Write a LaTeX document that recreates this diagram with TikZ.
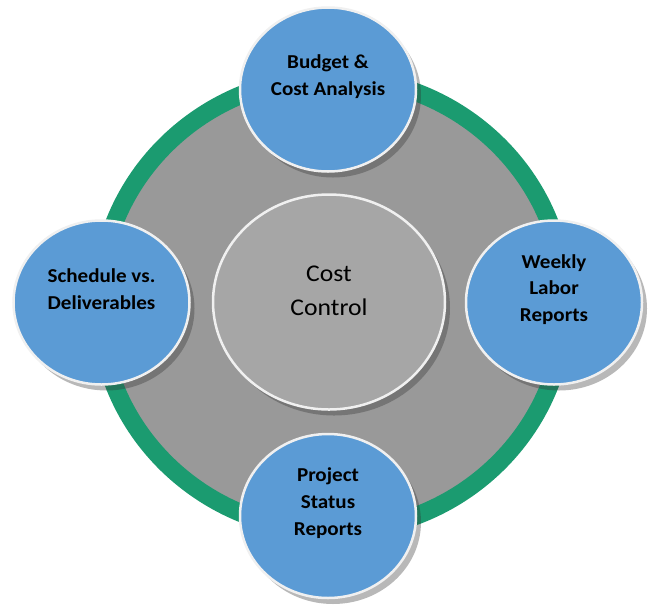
\documentclass[tikz,border=0pt]{standalone}
\usepackage{fontspec}
\setmainfont{Carlito}[FakeStretch=1.07]
\usetikzlibrary{shapes.geometric,shadows}
\definecolor{ringgreen}{RGB}{27,155,112}
\definecolor{discgray}{RGB}{153,153,153}
\definecolor{hubgray}{RGB}{166,166,166}
\definecolor{topicblue}{RGB}{91,155,213}

\begin{document}
\begin{tikzpicture}[x=1pt, y=-1pt,
  bubble/.style={ellipse, draw=white!94!black, line width=2.5pt, inner sep=0pt,
    drop shadow={shadow xshift=5pt, shadow yshift=-6pt, opacity=0.35, fill=black!80}},
  topic/.style={bubble, fill=topicblue, minimum width=176pt, minimum height=164pt},
  hub/.style={bubble, fill=hubgray, minimum width=232pt, minimum height=215pt},
  topictext/.style={align=center, font=\bfseries\fontsize{19.7}{26.7}\selectfont},
  hubtext/.style={align=center, font=\fontsize{24}{34}\selectfont}]
\useasboundingbox (0,0) rectangle (656,606); % page size

\draw[line width=18pt, ringgreen, fill=discgray] (332,304) ellipse [x radius=233, y radius=227]; % green ring and gray disc

\node[hub] (hub) at (329,302) {}; % centre circle
\node[hubtext, yshift=11pt] (hubtext) at (hub) {Cost\\Control};

\node[topic] (budget) at (328,89.5) {}; % top
\node[topictext, yshift=13pt] (budgettext) at (budget) {Budget \&\\Cost Analysis};

\node[topic] (schedule) at (101.5,302.5) {}; % left
\node[topictext, yshift=13pt] (scheduletext) at (schedule) {Schedule vs.\\Deliverables};

\node[topic] (labor) at (554,302.5) {}; % right
\node[topictext, yshift=13pt] (labortext) at (labor) {Weekly\\Labor\\Reports};

\node[topic] (status) at (328,516) {}; % bottom
\node[topictext, yshift=13pt] (statustext) at (status) {Project\\Status\\Reports};

\end{tikzpicture}
\end{document}
